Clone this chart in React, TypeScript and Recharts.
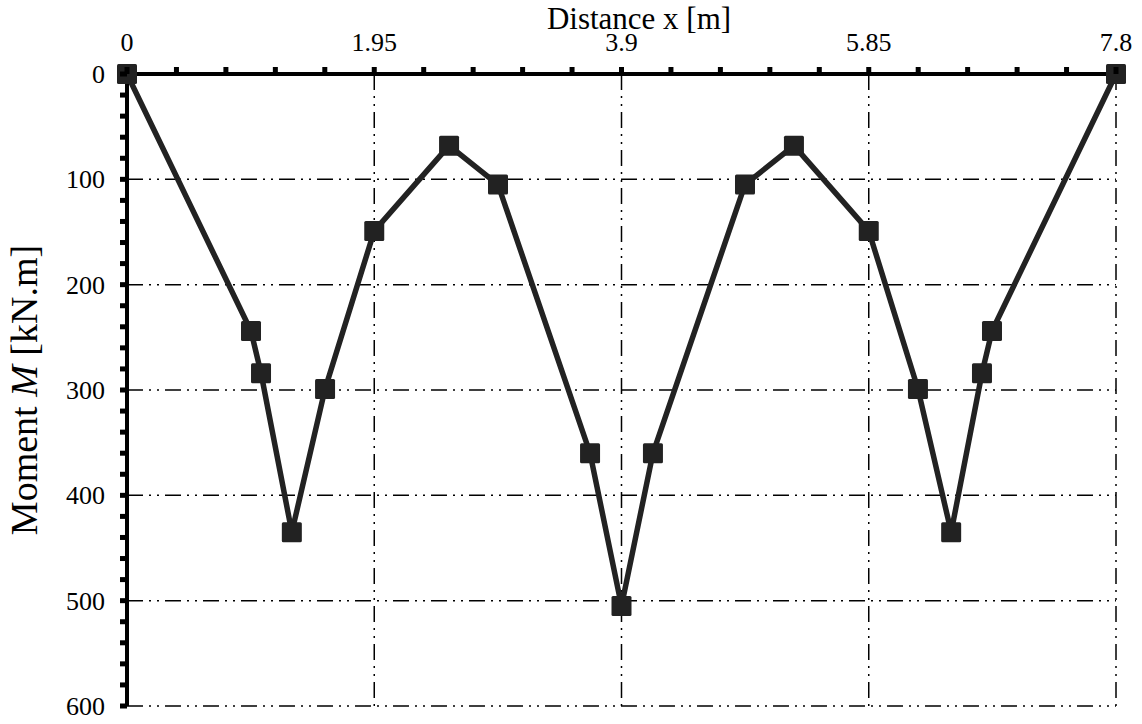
import { Line, LineChart, ReferenceLine, XAxis, YAxis } from "recharts";

// bending moment along the beam
const DISTANCE = [
	0, 0.978, 1.057, 1.3, 1.562, 1.95, 2.54, 2.926, 3.652, 3.9, 4.148, 4.874,
	5.26, 5.85, 6.238, 6.5, 6.743, 6.822, 7.8,
];
const MOMENT = [
	0, 244, 284, 435, 299, 149, 68, 105, 360, 505, 360, 105, 68, 149, 299, 435,
	284, 244, 0,
];

const X_MAJOR = [0, 1.95, 3.9, 5.85, 7.8];
const X_MINOR = [
	0.39, 0.78, 1.17, 1.56, 2.34, 2.73, 3.12, 3.51, 4.29, 4.68, 5.07, 5.46, 6.24,
	6.63, 7.02, 7.41,
];
const Y_MAJOR = [0, 100, 200, 300, 400, 500, 600];
const Y_MINOR = [
	20, 40, 60, 80, 120, 140, 160, 180, 220, 240, 260, 280, 320, 340, 360, 380,
	420, 440, 460, 480, 520, 540, 560, 580,
];

const data = DISTANCE.map((d, i) => ({ distance: d, moment: MOMENT[i] }));
const xTicks = [...X_MAJOR, ...X_MINOR].sort((a, b) => a - b);
const yTicks = [...Y_MAJOR, ...Y_MINOR].sort((a, b) => a - b);

const FONT = '"Liberation Serif", "Times New Roman", serif';
const INK = "#222";
const GRID_DASH = "16 6 2 6 2 6";

function XTick(props: any) {
	const { x, y, payload } = props;
	const major = X_MAJOR.includes(payload.value);
	return (
		<g>
			<rect x={x - 2.5} y={y - 7} width={5} height={7} fill="#000" />
			{major && (
				<text
					x={x}
					y={y - 23}
					textAnchor="middle"
					fontFamily={FONT}
					fontSize={26}
					fill="#000"
				>
					{payload.value}
				</text>
			)}
		</g>
	);
}

function YTick(props: any) {
	const { x, y, payload } = props;
	const major = Y_MAJOR.includes(payload.value);
	return (
		<g>
			<rect x={x - 7} y={y - 2.5} width={7} height={5} fill="#000" />
			{major && (
				<text
					x={x - 22}
					y={y + 9}
					textAnchor="end"
					fontFamily={FONT}
					fontSize={26}
					fill="#000"
				>
					{payload.value}
				</text>
			)}
		</g>
	);
}

function SquareDot(props: any) {
	const { cx, cy, index } = props;
	return (
		<rect
			key={`dot-${index}`}
			x={cx - 10}
			y={cy - 10}
			width={20}
			height={20}
			rx={1.5}
			fill={INK}
		/>
	);
}

export default function App() {
	return (
		<div style={{ position: "absolute", left: 0, top: 0 }}>
			<LineChart
				width={1142}
				height={724}
				data={data}
				margin={{ top: 0, right: 26, bottom: 18, left: 0 }}
			>
				<XAxis
					dataKey="distance"
					type="number"
					orientation="top"
					domain={[0, 7.8]}
					ticks={xTicks}
					interval={0}
					height={74}
					tickSize={0}
					tickMargin={0}
					tickLine={false}
					axisLine={{ stroke: "#000", strokeWidth: 4 }}
					tick={<XTick />}
					label={{
						content: () => (
							<text
								x={639}
								y={29}
								textAnchor="middle"
								fontFamily={FONT}
								fontSize={31}
								fill="#000"
							>
								Distance x [m]
							</text>
						),
					}}
				/>
				<YAxis
					type="number"
					reversed
					domain={[0, 600]}
					ticks={yTicks}
					interval={0}
					width={127}
					tickSize={0}
					tickMargin={0}
					tickLine={false}
					axisLine={{ stroke: "#000", strokeWidth: 4 }}
					tick={<YTick />}
					label={{
						content: () => (
							<text
								x={37}
								y={390}
								transform="rotate(-90 37 390)"
								textAnchor="middle"
								fontFamily={FONT}
								fontSize={38}
								fill="#000"
							>
								<tspan>Moment </tspan>
								<tspan fontStyle="italic">M</tspan>
								<tspan> [kN.m]</tspan>
							</text>
						),
					}}
				/>
				{X_MAJOR.slice(1).map((v) => (
					<ReferenceLine
						key={`vx-${v}`}
						x={v}
						stroke="#000"
						strokeWidth={1.5}
						strokeDasharray={GRID_DASH}
					/>
				))}
				{Y_MAJOR.slice(1).map((v) => (
					<ReferenceLine
						key={`hy-${v}`}
						y={v}
						stroke="#000"
						strokeWidth={1.5}
						strokeDasharray={GRID_DASH}
					/>
				))}
				<Line
					dataKey="moment"
					type="linear"
					stroke={INK}
					strokeWidth={5.5}
					dot={SquareDot}
					activeDot={false}
					isAnimationActive={false}
				/>
			</LineChart>
		</div>
	);
}
